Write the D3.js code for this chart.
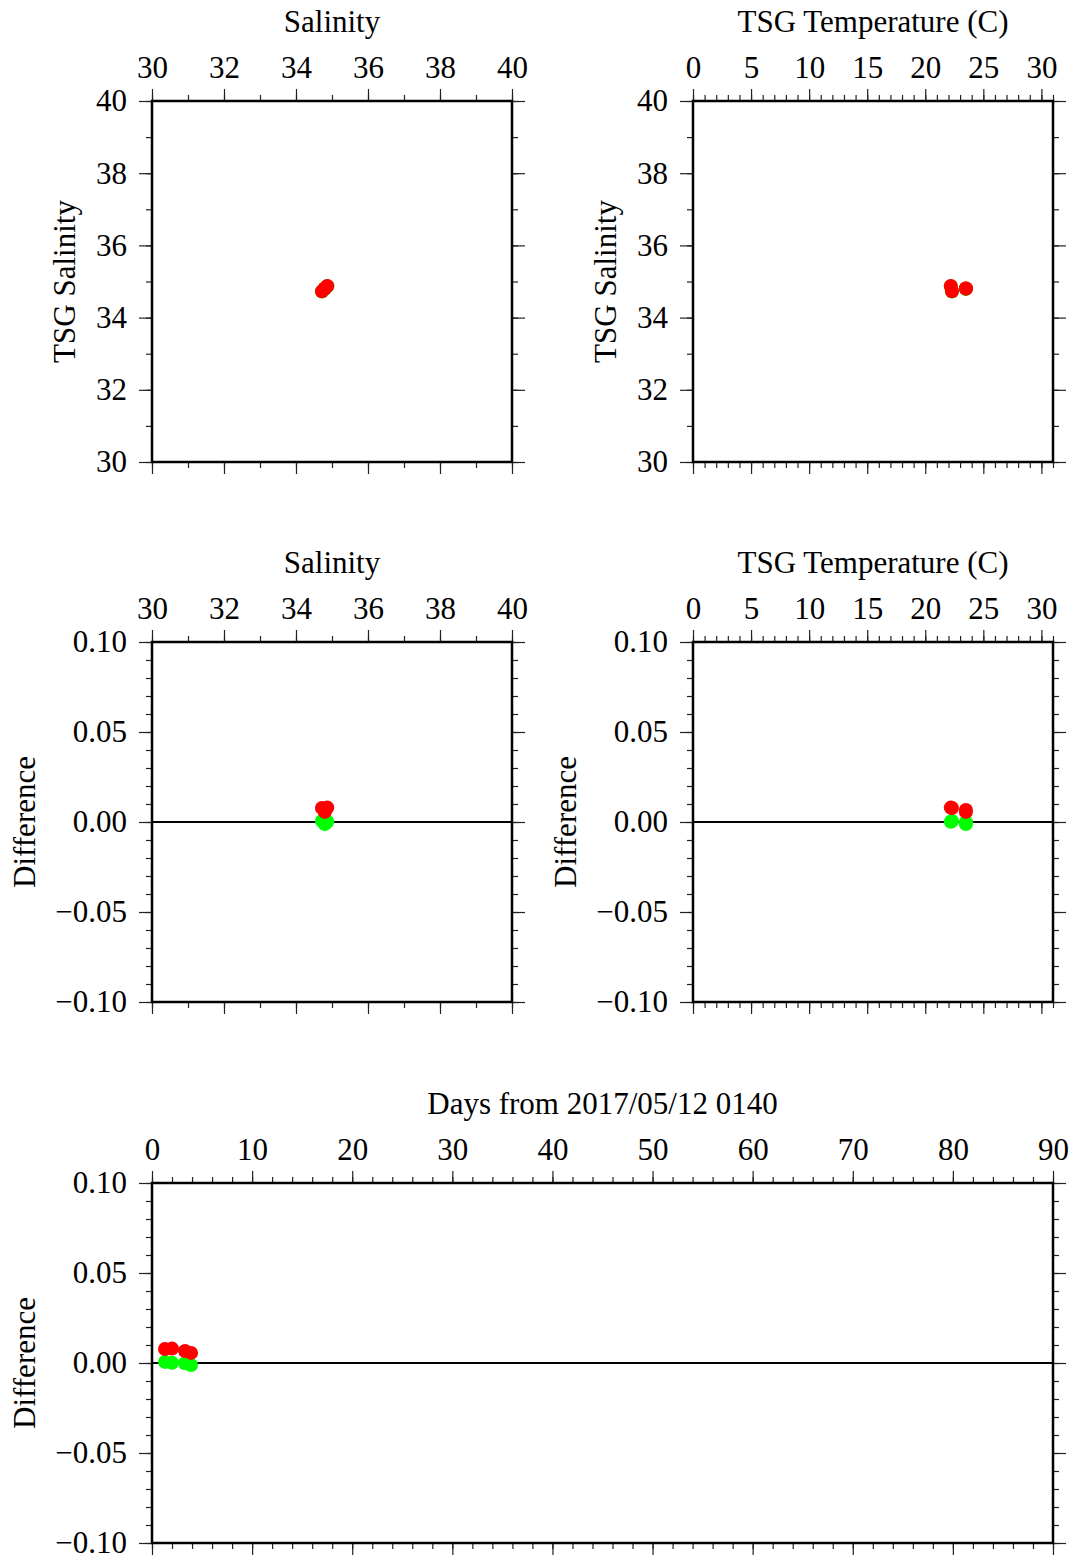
<!DOCTYPE html>
<html>
<head>
<meta charset="utf-8">
<script src="https://cdn.jsdelivr.net/npm/d3@7.9.0/dist/d3.min.js"></script>
<style>
  body { margin: 0; background: #fff; }
  svg text { font-family: "Liberation Serif", "Times New Roman", serif; font-size: 31px; fill: #000; }
</style>
</head>
<body>
<svg id="chart" width="1070" height="1555"></svg>
<script>
// sample data (4 bottle samples)
const days = [1.3, 2.0, 3.3, 3.9];
const bottleSal = [34.72, 34.87, 34.80, 34.80];
const tsgTemp = [22.3, 22.2, 23.5, 23.5];
const diffRaw = [0.0078, 0.0080, 0.0067, 0.0056];   // red: TSG - bottle
const diffCorr = [0.0006, 0.0001, -0.0001, -0.0011]; // green: corrected TSG - bottle
const tsgSal = bottleSal.map((s, i) => s + diffRaw[i]);
const tsgSalCorr = bottleSal.map((s, i) => s + diffCorr[i]);

const salTicks = [30, 32, 34, 36, 38, 40];
const tempTicks = [0, 5, 10, 15, 20, 25, 30];
const dayTicks = [0, 10, 20, 30, 40, 50, 60, 70, 80, 90];
const diffTicks = [-0.10, -0.05, 0.00, 0.05, 0.10];

const svg = d3.select('#chart');
const fmtDiff = d => d3.format('.2f')(d).replace('-', '\u2212');

// one GMT-style framed panel
function panel(opt) {
    const { x0, x1, y0, y1 } = opt;
    const g = svg.append('g');
    const x = d3.scaleLinear().domain(opt.xDomain).range([x0, x1]);
    const y = d3.scaleLinear().domain(opt.yDomain).range([y1, y0]);

    const xMinor = d3.range(opt.xDomain[0], opt.xDomain[1] + 1e-9, opt.xMinor);
    const yMinor = d3.range(opt.yDomain[0], opt.yDomain[1] + 1e-9, opt.yMinor);

    const addAxis = (gen, tx, ty) => {
        const a = g.append('g').attr('transform', `translate(${tx},${ty})`).call(gen);
        a.select('.domain').remove();
        a.selectAll('line').attr('stroke', '#222').attr('stroke-width', 1.2);
        return a;
    };

    // minor ticks on every side
    addAxis(d3.axisTop(x).tickValues(xMinor).tickSize(6).tickFormat(''), 0, y0);
    addAxis(d3.axisBottom(x).tickValues(xMinor).tickSize(6).tickFormat(''), 0, y1);
    addAxis(d3.axisLeft(y).tickValues(yMinor).tickSize(6).tickFormat(''), x0, 0);
    addAxis(d3.axisRight(y).tickValues(yMinor).tickSize(6).tickFormat(''), x1, 0);

    // major ticks + labels on top and left
    addAxis(d3.axisTop(x).tickValues(opt.xTicks).tickSize(12).tickPadding(11).tickFormat(opt.xFmt || d3.format('d')), 0, y0);
    addAxis(d3.axisBottom(x).tickValues(opt.xTicks).tickSize(12).tickFormat(''), 0, y1);
    addAxis(d3.axisLeft(y).tickValues(opt.yTicks).tickSize(13).tickPadding(12).tickFormat(opt.yFmt || d3.format('d')), x0, 0);
    addAxis(d3.axisRight(y).tickValues(opt.yTicks).tickSize(13).tickFormat(''), x1, 0);
    g.selectAll('.tick text').style('font-size', '31px').style('font-family', '"Liberation Serif", serif');

    // frame
    g.append('rect')
        .attr('x', x0).attr('y', y0)
        .attr('width', x1 - x0).attr('height', y1 - y0)
        .attr('fill', 'none').attr('stroke', '#000').attr('stroke-width', 2.5);

    if (opt.zeroLine) {
        g.append('line')
            .attr('x1', x0).attr('x2', x1)
            .attr('y1', y(0)).attr('y2', y(0))
            .attr('stroke', '#000').attr('stroke-width', 2);
    }

    // points: green first, red on top
    opt.series.forEach(s => {
        s.xs.forEach((xv, i) => {
            g.append('circle')
                .attr('cx', x(xv)).attr('cy', y(s.ys[i]))
                .attr('r', 7).attr('fill', s.color);
        });
    });

    // titles
    g.append('text')
        .attr('x', (x0 + x1) / 2).attr('y', y0 - 69)
        .attr('text-anchor', 'middle').text(opt.title);
    g.append('text')
        .attr('transform', `translate(${x0 - opt.yLabelOff},${(y0 + y1) / 2}) rotate(-90)`)
        .attr('text-anchor', 'middle').text(opt.yLabel);
}

const salAxis = { xDomain: [30, 40], xTicks: salTicks, xMinor: 1, title: 'Salinity' };
const tempAxis = { xDomain: [0, 31], xTicks: tempTicks, xMinor: 1, title: 'TSG Temperature (C)' };
const salY = { yDomain: [30, 40], yTicks: salTicks, yMinor: 1, yLabel: 'TSG Salinity', yLabelOff: 77 };
const diffY = { yDomain: [-0.1, 0.1], yTicks: diffTicks, yMinor: 0.01, yFmt: fmtDiff, yLabel: 'Difference', yLabelOff: 117, zeroLine: true };

panel({ x0: 152, x1: 512, y0: 101, y1: 462, ...salAxis, ...salY,
    series: [{ xs: bottleSal, ys: tsgSalCorr, color: '#00ff00' }, { xs: bottleSal, ys: tsgSal, color: '#ff0000' }] });
panel({ x0: 693, x1: 1053, y0: 101, y1: 462, ...tempAxis, ...salY,
    series: [{ xs: tsgTemp, ys: tsgSalCorr, color: '#00ff00' }, { xs: tsgTemp, ys: tsgSal, color: '#ff0000' }] });
panel({ x0: 152, x1: 512, y0: 642, y1: 1002, ...salAxis, ...diffY,
    series: [{ xs: bottleSal, ys: diffCorr, color: '#00ff00' }, { xs: bottleSal, ys: diffRaw, color: '#ff0000' }] });
panel({ x0: 693, x1: 1053, y0: 642, y1: 1002, ...tempAxis, ...diffY,
    series: [{ xs: tsgTemp, ys: diffCorr, color: '#00ff00' }, { xs: tsgTemp, ys: diffRaw, color: '#ff0000' }] });
panel({ x0: 152, x1: 1053, y0: 1183, y1: 1543, xDomain: [0, 90], xTicks: dayTicks, xMinor: 2,
    title: 'Days from 2017/05/12 0140', ...diffY,
    series: [{ xs: days, ys: diffCorr, color: '#00ff00' }, { xs: days, ys: diffRaw, color: '#ff0000' }] });
</script>
</body>
</html>
